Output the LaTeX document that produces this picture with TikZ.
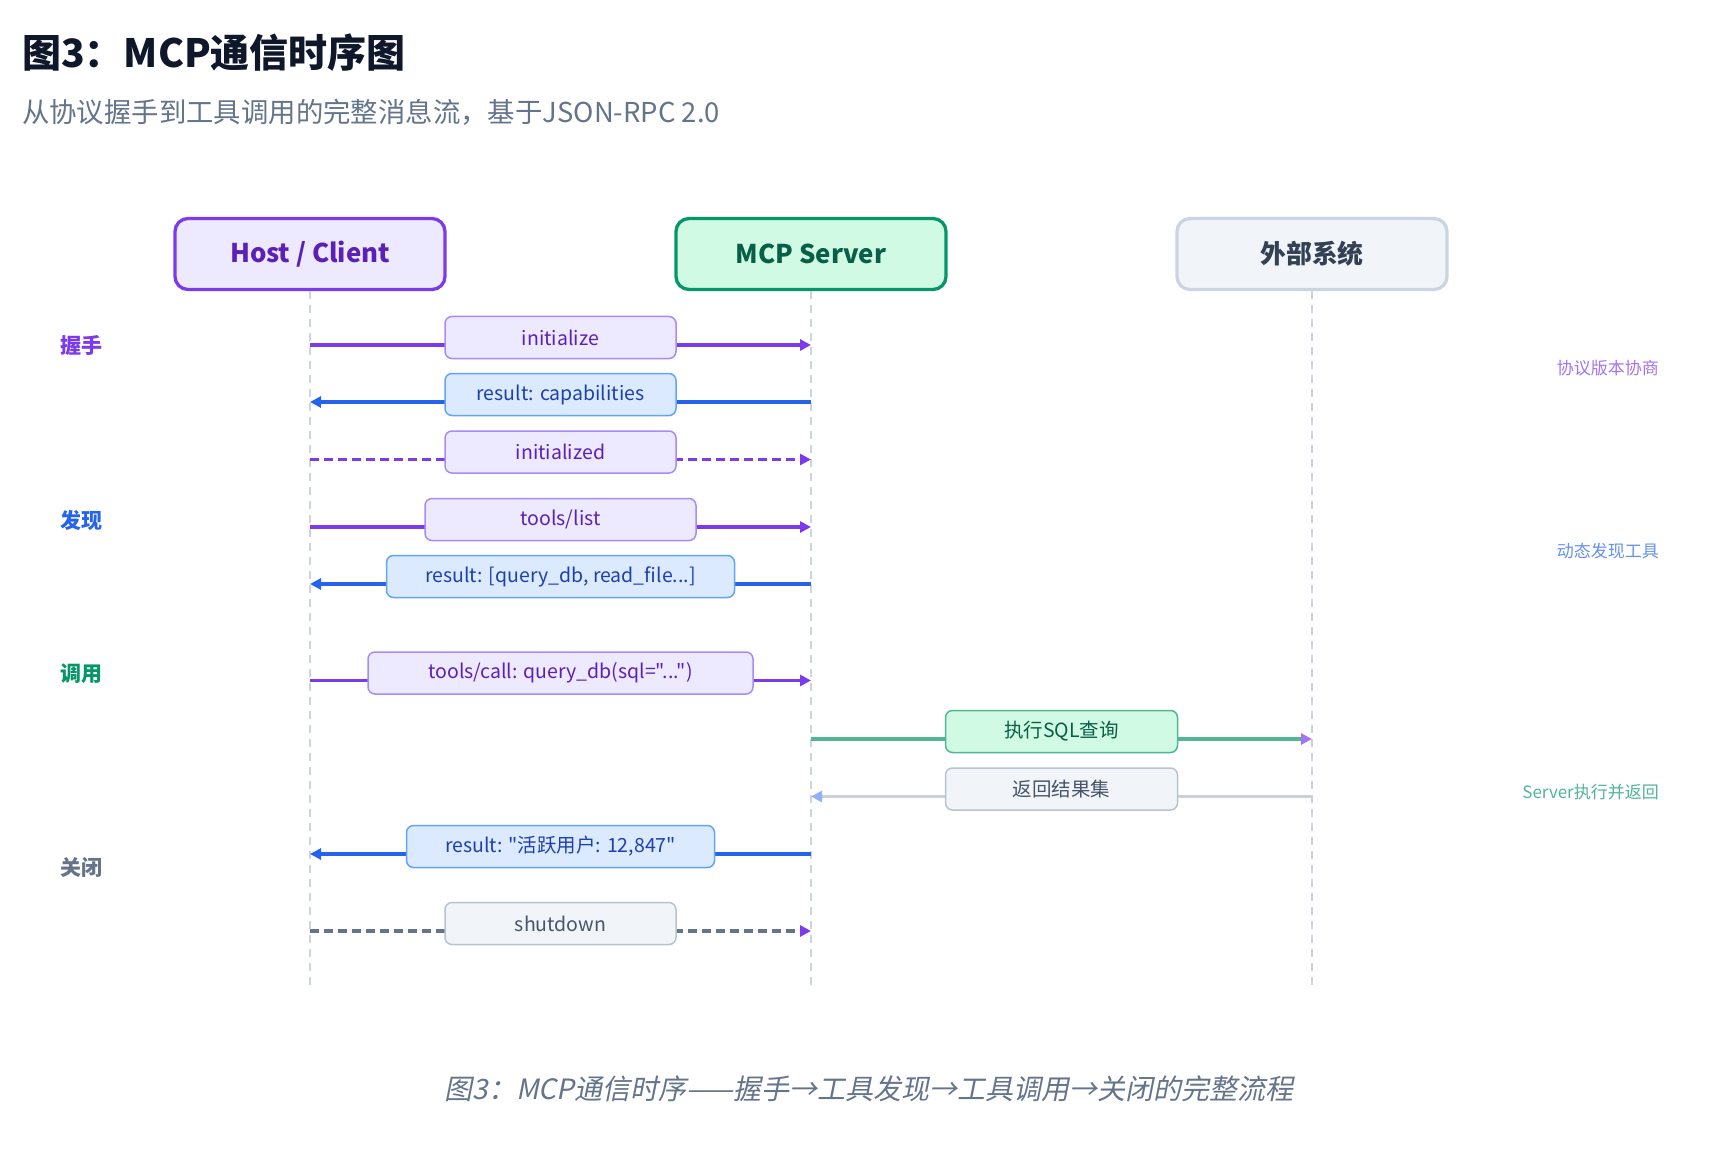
\documentclass[tikz,border=0pt]{standalone}
\usepackage{fontspec}
\setmainfont{Noto Sans CJK SC}
\newfontfamily\capfont[FakeSlant=0.2]{Noto Sans CJK SC}
\newfontfamily\rawfont[Ligatures=TeXOff]{Noto Sans CJK SC}
\usetikzlibrary{arrows.meta}
\definecolor{vio}{HTML}{7C3AED}
\definecolor{viofill}{HTML}{EDE9FE}
\definecolor{viotext}{HTML}{5B21B6}
\definecolor{vioborder}{HTML}{A78BFA}
\definecolor{blu}{HTML}{2563EB}
\definecolor{blufill}{HTML}{DBEAFE}
\definecolor{blutext}{HTML}{1E40AF}
\definecolor{bluborder}{HTML}{60A5FA}
\definecolor{grn}{HTML}{059669}
\definecolor{grnfill}{HTML}{D1FAE5}
\definecolor{grntext}{HTML}{065F46}
\definecolor{grnline}{HTML}{50B696}
\definecolor{slfill}{HTML}{F1F5F9}
\definecolor{slborder}{HTML}{CBD5E1}
\definecolor{slmsgborder}{HTML}{B9C3D0}
\definecolor{sltext}{HTML}{475569}
\definecolor{slgray}{HTML}{64748B}
\definecolor{sldark}{HTML}{334155}
\definecolor{titlec}{HTML}{0F172A}
\definecolor{lifec}{HTML}{CBD5E1}
\definecolor{retline}{HTML}{CAD1DB}
\definecolor{rethead}{HTML}{92B1F5}
\definecolor{viosoft}{HTML}{A375F2}
\definecolor{blusoft}{HTML}{6691F1}
\tikzset{
  actor/.style={draw, line width=3.3pt, rounded corners=13pt, minimum width=270pt, minimum height=71pt, font=\fontsize{25.8}{31}\selectfont\bfseries},
  life/.style={draw=lifec, line width=1.6pt, dash pattern=on 8pt off 6pt},
  msg/.style={line width=3.3pt},
  tipv/.style={-{Triangle[length=11pt,width=11pt]}},
  msgbox/.style={draw, line width=1.5pt, rounded corners=7pt, minimum height=42pt, inner sep=0pt, font=\fontsize{19.5}{23}\selectfont},
  vbox/.style={msgbox, fill=viofill, draw=vioborder, text=viotext},
  bbox/.style={msgbox, fill=blufill, draw=bluborder, text=blutext},
  gbox/.style={msgbox, fill=grnfill, draw=grnline, text=grntext},
  sbox/.style={msgbox, fill=slfill, draw=slmsgborder, text=sltext},
  phase/.style={anchor=west, inner sep=0pt, font=\fontsize{21}{25}\selectfont\bfseries},
  note/.style={anchor=east, inner sep=0pt, font=\fontsize{17}{20}\selectfont},
  dashmsg/.style={dash pattern=on 9pt off 5pt}
}
\begin{document}
\begin{tikzpicture}[x=1pt,y=-1pt]
\useasboundingbox[fill=white] (0,0) rectangle (1732,1158);
% title
\node[anchor=west, inner sep=0pt, text=titlec, font=\fontsize{39}{46}\selectfont\bfseries] (title) at (22,53) {图3：MCP通信时序图};
\node[anchor=west, inner sep=0pt, text=slgray, font=\fontsize{27.4}{33}\selectfont] (subtitle) at (22,112) {从协议握手到工具调用的完整消息流，基于JSON-RPC 2.0};
% actors
\node[actor, fill=viofill, draw=vio, text=viotext] (host) at (310,254) {Host / Client};
\node[actor, fill=grnfill, draw=grn, text=grntext] (server) at (811,254) {MCP Server};
\node[actor, fill=slfill, draw=slborder, text=sldark] (ext) at (1312,254) {外部系统};
% lifeline ends
\coordinate (yend) at (0,988);
\draw[life] (host.south) -- (host |- yend);
\draw[life] (server.south) -- (server |- yend);
\draw[life] (ext.south) -- (ext |- yend);
% message rows
\coordinate (y1) at (0,345);
\coordinate (y2) at (0,402);
\coordinate (y3) at (0,459.5);
\coordinate (y4) at (0,527);
\coordinate (y5) at (0,584);
\coordinate (y6) at (0,680.5);
\coordinate (y7) at (0,739);
\coordinate (y8) at (0,796.5);
\coordinate (y9) at (0,854);
\coordinate (y10) at (0,931);
% arrows
\draw[msg, vio, tipv] (host |- y1) -- (server |- y1);
\draw[msg, blu, tipv] (server |- y2) -- (host |- y2);
\draw[msg, vio, tipv, dashmsg] (host |- y3) -- (server |- y3);
\draw[msg, vio, tipv] (host |- y4) -- (server |- y4);
\draw[msg, blu, tipv] (server |- y5) -- (host |- y5);
\draw[msg, vio, tipv] (host |- y6) -- (server |- y6);
\draw[msg, grnline, -{Triangle[length=11pt,width=11pt,color=viosoft]}] (server |- y7) -- (ext |- y7);
\draw[msg, retline, -{Triangle[length=11pt,width=11pt,color=rethead]}] (ext |- y8) -- (server |- y8);
\draw[msg, blu, tipv] (server |- y9) -- (host |- y9);
\draw[msg, slgray, dashmsg, -{Triangle[length=11pt,width=11pt,color=vio]}] (host |- y10) -- (server |- y10);
% label boxes
\node[vbox, minimum width=231pt] (l1) at (560.5,337.5) {initialize};
\node[bbox, minimum width=231pt] (l2) at (560.5,394.5) {result: capabilities};
\node[vbox, minimum width=231pt] (l3) at (560.5,452) {initialized};
\node[vbox, minimum width=271pt] (l4) at (560.5,519.5) {tools/list};
\node[bbox, minimum width=348pt] (l5) at (560.5,576.5) {result: [query\_db, read\_file...]};
\node[vbox, minimum width=385pt] (l6) at (560.5,673) {\rawfont tools/call: query\_db(sql="...")};
\node[gbox, minimum width=232pt] (l7) at (1061.5,731.5) {执行SQL查询};
\node[sbox, minimum width=232pt] (l8) at (1061.5,789) {返回结果集};
\node[bbox, minimum width=308pt] (l9) at (560.5,846.5) {\rawfont result: "活跃用户: 12,847"};
\node[sbox, minimum width=231pt] (l10) at (560.5,923.5) {shutdown};
% phases
\node[phase, text=vio] (p1) at (60,346) {握手};
\node[phase, text=blu] (p2) at (60,520) {发现};
\node[phase, text=grn] (p3) at (60,674) {调用};
\node[phase, text=slgray] (p4) at (60,867) {关闭};
% notes
\node[note, text=viosoft] (n1) at (1659,368) {协议版本协商};
\node[note, text=blusoft] (n2) at (1659,551) {动态发现工具};
\node[note, text=grnline] (n3) at (1659,792) {Server执行并返回};
% caption
\node[text=slgray, inner sep=0pt, font=\fontsize{28}{34}\selectfont\capfont] (cap) at (869,1089) {图3：MCP通信时序——握手→工具发现→工具调用→关闭的完整流程};
\end{tikzpicture}
\end{document}
